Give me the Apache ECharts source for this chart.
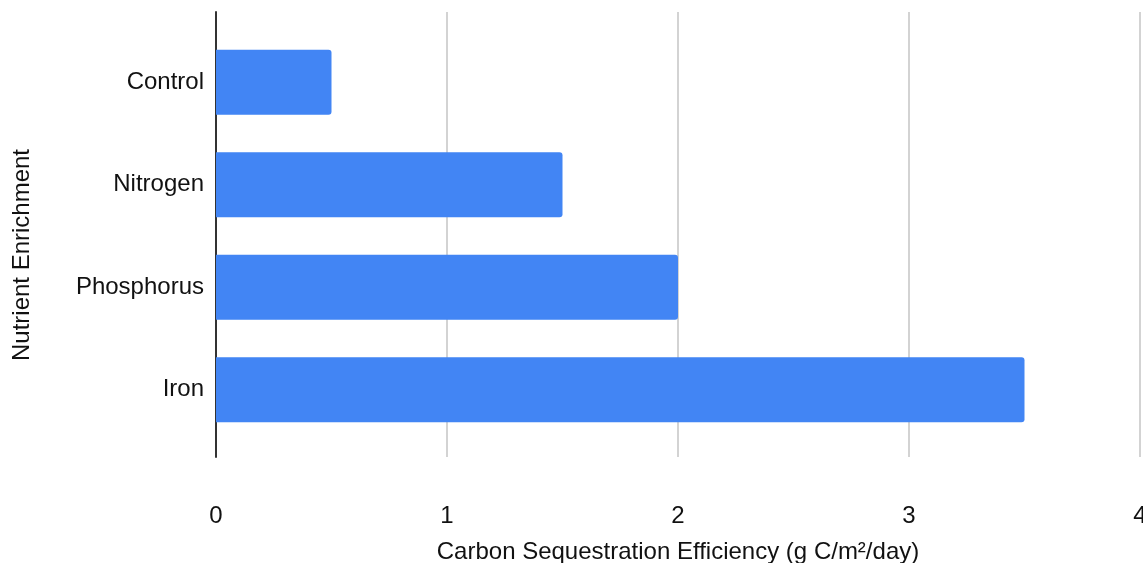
<!DOCTYPE html>
<html>
<head>
<meta charset="utf-8">
<script src="https://cdn.jsdelivr.net/npm/echarts@6/dist/echarts.min.js"></script>
<style>
  html, body { margin: 0; padding: 0; background: #fff; }
  #chart { width: 1143px; height: 563px; }
</style>
</head>
<body>
<div id="chart"></div>
<script>
// Nutrient treatments and their carbon sequestration efficiency (g C/m²/day)
const categories = ['Control', 'Nitrogen', 'Phosphorus', 'Iron'];
const efficiency = [0.5, 1.5, 2.0, 3.5];
const xTicks = [0, 1, 2, 3, 4];
const xTitle = 'Carbon Sequestration Efficiency (g C/m²/day)';
const yTitle = 'Nutrient Enrichment';

const FONT = '"Liberation Sans", Arial, sans-serif';
const TEXT = '#111111';
const chart = echarts.init(document.getElementById('chart'), null, { renderer: 'canvas' });

chart.setOption({
  animation: false,
  backgroundColor: '#ffffff',
  textStyle: { fontFamily: FONT },
  grid: [
    // frame: gridlines, baseline, tick labels
    { left: 216, right: 3, top: 12, bottom: 106, containLabel: false, outerBoundsMode: 'none' },
    // bars
    { left: 216, right: 3, top: 31, height: 410, containLabel: false, outerBoundsMode: 'none' }
  ],
  xAxis: [
    {
      gridIndex: 0,
      type: 'value',
      min: xTicks[0],
      max: xTicks[xTicks.length - 1],
      interval: 1,
      axisLine: { show: false },
      axisTick: { show: false },
      splitLine: { show: true, lineStyle: { color: '#c4c4c4', width: 1.5 } },
      axisLabel: { fontSize: 24, color: TEXT, margin: 47, fontFamily: FONT },
      name: xTitle,
      nameLocation: 'middle',
      nameGap: 83,
      nameTextStyle: { fontSize: 24, color: TEXT, fontFamily: FONT }
    },
    {
      gridIndex: 1,
      type: 'value',
      min: xTicks[0],
      max: xTicks[xTicks.length - 1],
      show: false
    }
  ],
  yAxis: [
    {
      gridIndex: 0,
      type: 'value',
      min: 0,
      max: 1,
      axisLine: { show: true, lineStyle: { color: '#333333', width: 2 } },
      axisTick: { show: false },
      axisLabel: { show: false },
      splitLine: { show: false }
    },
    {
      gridIndex: 1,
      type: 'category',
      data: categories,
      inverse: true,
      axisLine: { show: false },
      axisTick: { show: false },
      splitLine: { show: false },
      axisLabel: { fontSize: 24, color: TEXT, margin: 12, fontFamily: FONT }
    }
  ],
  graphic: [
    {
      type: 'text',
      x: 22,
      y: 255,
      rotation: Math.PI / 2,
      style: {
        text: yTitle,
        fontSize: 24,
        fontFamily: FONT,
        fill: TEXT,
        align: 'center',
        verticalAlign: 'middle'
      }
    }
  ],
  series: [
    {
      type: 'bar',
      xAxisIndex: 1,
      yAxisIndex: 1,
      data: efficiency,
      barWidth: 65,
      itemStyle: { color: '#4285F4', borderRadius: [0, 3, 3, 0] }
    }
  ]
});
</script>
</body>
</html>
